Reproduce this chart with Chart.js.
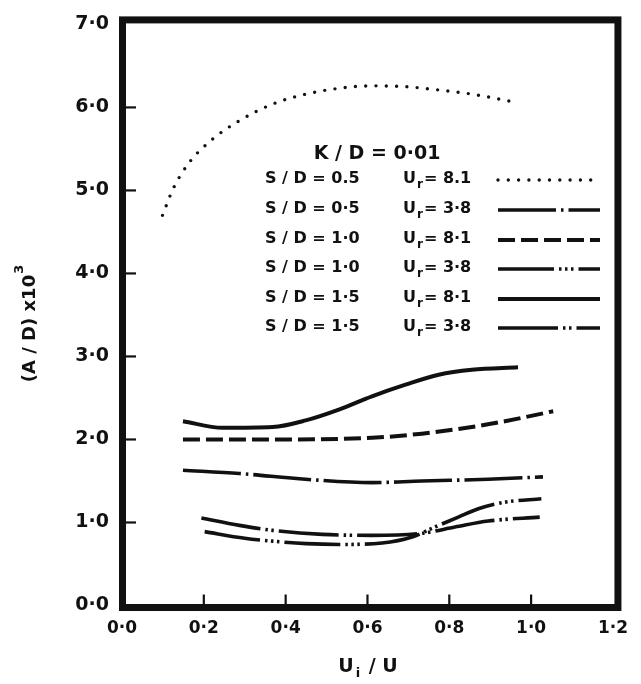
<!DOCTYPE html>
<html><head><meta charset="utf-8">
<script src="https://cdn.jsdelivr.net/npm/chart.js@4"></script>
<style>html,body{margin:0;padding:0;background:#fff}#wrap{width:641px;height:684px;position:relative}</style>
</head><body><div id="wrap"><canvas id="c" width="641" height="684"></canvas></div>
<script>
// ---- tick labels ----
const xTickLabels = ['0·0','0·2','0·4','0·6','0·8','1·0','1·2'];
const yTickLabels = ['0·0','1·0','2·0','3·0','4·0','5·0','6·0','7·0'];
// ---- legend categories ----
const legendTitle = 'K / D = 0·01';
const seriesSD = ['0.5','0·5','1·0','1·0','1·5','1·5'];
const seriesUr = ['8.1','3·8','8·1','3·8','8·1','3·8'];
// ---- series values (Ui/U , (A/D)x10^3) ----
const x_sd05_ur81 = [0.099,0.125,0.165,0.222,0.287,0.368,0.449,0.530,0.611,0.693,0.774,0.855,0.964];
const y_sd05_ur81 = [4.70,5.02,5.34,5.62,5.84,6.04,6.16,6.23,6.26,6.25,6.21,6.16,6.06];
const x_sd05_ur38 = [0.149,0.287,0.449,0.611,0.733,0.895,1.029];
const y_sd05_ur38 = [1.63,1.59,1.52,1.48,1.50,1.52,1.55];
const x_sd10_ur81 = [0.149,0.368,0.611,0.733,0.855,0.936,1.054];
const y_sd10_ur81 = [2.00,2.00,2.02,2.07,2.15,2.22,2.34];
const x_sd10_ur38 = [0.202,0.300,0.368,0.450,0.530,0.636,0.709,0.760,0.822,0.871,0.936,1.025];
const y_sd10_ur38 = [0.89,0.81,0.775,0.745,0.735,0.753,0.825,0.935,1.065,1.165,1.245,1.285];
const x_sd15_ur81 = [0.149,0.246,0.368,0.449,0.530,0.611,0.693,0.774,0.855,0.968];
const y_sd15_ur81 = [2.22,2.14,2.15,2.23,2.36,2.52,2.66,2.78,2.84,2.87];
const x_sd15_ur38 = [0.194,0.287,0.368,0.490,0.611,0.733,0.814,0.895,1.021];
const y_sd15_ur38 = [1.053,0.965,0.905,0.857,0.845,0.87,0.945,1.017,1.065];

const pts = (xs, ys) => xs.map((x, i) => ({x, y: ys[i]}));
const INK = '#111';
const FONT = '"DejaVu Sans", "Liberation Sans", sans-serif';

const styles = [
  {borderDash:[0,10.3], borderWidth:3.4, borderCapStyle:'round'},
  {borderDash:[58,5,2.5,5], borderWidth:3.6, borderCapStyle:'butt'},
  {borderDash:[17,6], borderWidth:4, borderCapStyle:'butt'},
  {borderDash:[56,5,2.5,3.5,2.5,3.5,2.5,5], borderWidth:3.6, borderCapStyle:'butt'},
  {borderDash:[], borderWidth:4, borderCapStyle:'butt'},
  {borderDash:[60,5,2.5,3.5,2.5,5], borderWidth:3.6, borderCapStyle:'butt'}
];
const allX = [x_sd05_ur81,x_sd05_ur38,x_sd10_ur81,x_sd10_ur38,x_sd15_ur81,x_sd15_ur38];
const allY = [y_sd05_ur81,y_sd05_ur38,y_sd10_ur81,y_sd10_ur38,y_sd15_ur81,y_sd15_ur38];

const datasets = allX.map((xs, i) => Object.assign({
  label: 'S/D=' + seriesSD[i] + ' Ur=' + seriesUr[i],
  data: pts(xs, allY[i]),
  borderColor: INK,
  pointRadius: 0,
  fill: false,
  cubicInterpolationMode: 'monotone',
  borderJoinStyle: 'round'
}, styles[i]));

const framePlugin = {
  id: 'frame',
  afterDraw(chart) {
    const ctx = chart.ctx, xs = chart.scales.x, ys = chart.scales.y;
    const L = xs.getPixelForValue(0), R = xs.getPixelForValue(1.2);
    const T = ys.getPixelForValue(7), B = ys.getPixelForValue(0);
    ctx.save();
    // inward ticks
    ctx.strokeStyle = INK; ctx.lineWidth = 2.2; ctx.lineCap = 'butt';
    for (let v = 1; v <= 6; v++) {
      const y = ys.getPixelForValue(v);
      ctx.beginPath(); ctx.moveTo(L, y); ctx.lineTo(L + 14, y); ctx.stroke();
    }
    for (let v = 1; v <= 5; v++) {
      const x = xs.getPixelForValue(v * 0.2);
      ctx.beginPath(); ctx.moveTo(x, B); ctx.lineTo(x, B - 11); ctx.stroke();
    }
    // thick frame
    ctx.lineWidth = 7; ctx.lineJoin = 'miter';
    ctx.strokeRect(L + 0.5, T - 4.5, (R + 5) - (L + 0.5), (B + 2) - (T - 4.5));
    // legend
    ctx.fillStyle = INK; ctx.textBaseline = 'middle';
    ctx.font = 'bold 19px ' + FONT;
    ctx.textAlign = 'center';
    ctx.fillText(legendTitle, 377, 154);
    const rows = [179, 209, 239, 268, 298, 327];
    chart.data.datasets.forEach((ds, i) => {
      const y = rows[i];
      ctx.textAlign = 'left';
      ctx.font = 'bold 16px ' + FONT;
      ctx.fillText('S / D = ' + seriesSD[i], 265, y);
      ctx.fillText('U', 403, y);
      const uw = ctx.measureText('U').width;
      ctx.font = 'bold 12px ' + FONT;
      ctx.fillText('r', 403 + uw + 1, y + 6);
      const rw = ctx.measureText('r').width;
      ctx.font = 'bold 16px ' + FONT;
      ctx.fillText('= ' + seriesUr[i], 403 + uw + rw + 2, y);
      ctx.beginPath();
      ctx.setLineDash(ds.borderDash);
      ctx.lineWidth = ds.borderWidth;
      ctx.lineCap = ds.borderCapStyle;
      ctx.moveTo(498, y + 1); ctx.lineTo(600, y + 1); ctx.stroke();
      ctx.setLineDash([]);
    });
    // axis titles
    ctx.font = 'bold 19px ' + FONT;
    ctx.textAlign = 'left';
    const t1 = 'U', t2 = ' / U';
    const w1 = ctx.measureText(t1).width;
    ctx.font = 'bold 13px ' + FONT;
    const wi = ctx.measureText('i').width + 4;
    ctx.font = 'bold 19px ' + FONT;
    const w2 = ctx.measureText(t2).width;
    let sx = 368 - (w1 + wi + w2) / 2;
    const ty = 667;
    ctx.fillText(t1, sx, ty);
    ctx.font = 'bold 13px ' + FONT;
    ctx.fillText('i', sx + w1 + 2, ty + 7);
    ctx.font = 'bold 19px ' + FONT;
    ctx.fillText(t2, sx + w1 + wi, ty);
    // y title rotated
    ctx.translate(30, 324);
    ctx.rotate(-Math.PI / 2);
    ctx.font = 'bold 18px ' + FONT;
    const a = '(A / D) x10';
    const aw = ctx.measureText(a).width;
    ctx.font = 'bold 13px ' + FONT;
    const ew = ctx.measureText('3').width;
    const s0 = -(aw + ew) / 2;
    ctx.font = 'bold 18px ' + FONT;
    ctx.textAlign = 'left';
    ctx.fillText(a, s0, 0);
    ctx.font = 'bold 13px ' + FONT;
    ctx.fillText('3', s0 + aw + 1, -10);
    ctx.restore();
  }
};

new Chart(document.getElementById('c'), {
  type: 'line',
  data: { datasets },
  options: {
    responsive: false,
    animation: false,
    layout: { padding: { top: 22, right: 26, left: 0, bottom: 0 } },
    plugins: { legend: { display: false }, tooltip: { enabled: false } },
    scales: {
      x: {
        type: 'linear', min: 0, max: 1.2,
        afterFit(s) { s.height = 78.5; },
        afterBuildTicks(s) { s.ticks = xTickLabels.map((t, i) => ({ value: i * 0.2 })); },
        grid: { display: false, drawTicks: false },
        border: { display: false },
        ticks: {
          padding: 13, color: INK, maxRotation: 0, autoSkip: false,
          font: { family: FONT, size: 17, weight: 'bold' },
          callback: (v, i) => xTickLabels[i]
        }
      },
      y: {
        type: 'linear', min: 0, max: 7,
        afterFit(s) { s.width = 122; },
        grid: { display: false, drawTicks: false },
        border: { display: false },
        ticks: {
          stepSize: 1, padding: 13, color: INK,
          font: { family: FONT, size: 19, weight: 'bold' },
          callback: (v, i) => yTickLabels[i]
        }
      }
    }
  },
  plugins: [framePlugin]
});
</script>
</body></html>
